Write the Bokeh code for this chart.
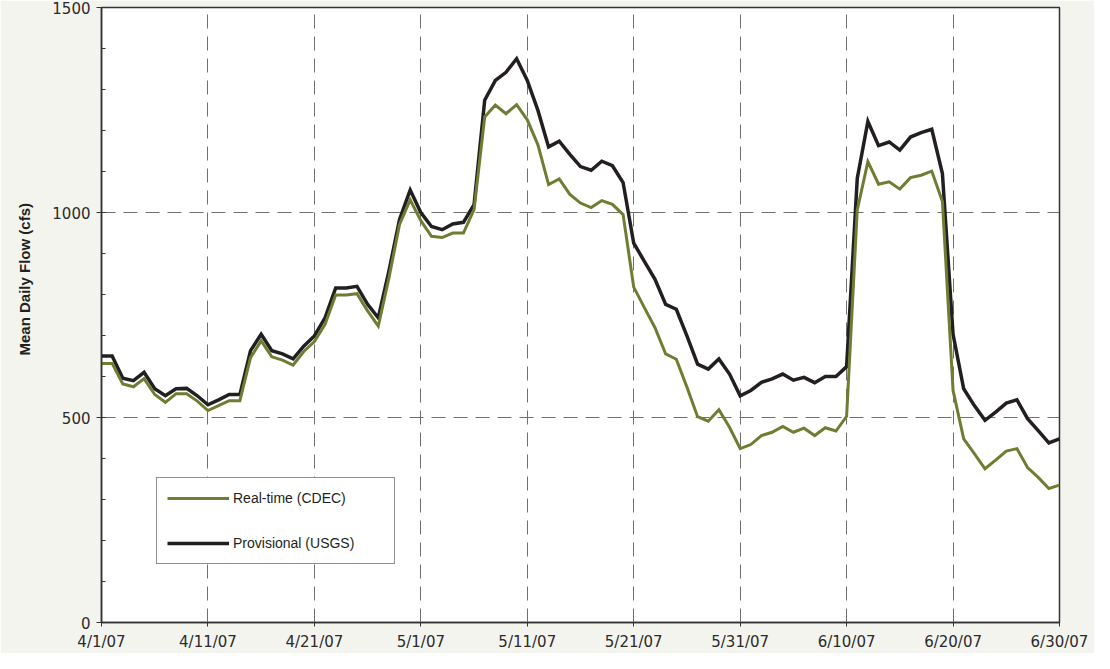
import pandas as pd
from bokeh.plotting import figure
from bokeh.models import Range1d, FixedTicker, Legend, LegendItem, Title, ColumnDataSource
from bokeh.embed import file_html
from bokeh.resources import INLINE

# ---- data (mean daily flow, cfs) ----
start_date = "2007-04-01"
end_date = "2007-06-30"
dates = pd.date_range(start_date, end_date, freq="D")

real_time_cdec = [
    632, 632, 582, 575, 595, 556, 537, 558, 558, 540,
    517, 529, 541, 541, 646, 687, 648, 640, 628, 661,
    685, 727, 799, 799, 802, 760, 723, 840, 971, 1031,
    980, 942, 939, 950, 950, 1007, 1233, 1262, 1241, 1263,
    1226, 1165, 1068, 1082, 1044, 1023, 1012, 1029, 1020, 995,
    818, 768, 719, 655, 642, 574, 502, 491, 519, 476,
    424, 434, 456, 464, 478, 464, 474, 456, 475, 467,
    503, 1006, 1124, 1069, 1075, 1057, 1085, 1091, 1101, 1027,
    566, 448, 412, 375, 396, 418, 424, 378, 354, 327,
    335,
]

provisional_usgs = [
    650, 650, 596, 590, 610, 570, 553, 570, 571, 553,
    531, 543, 556, 556, 663, 703, 663, 655, 643, 674,
    699, 743, 816, 816, 820, 776, 743, 857, 983, 1055,
    1000, 966, 958, 972, 976, 1019, 1274, 1322, 1342, 1375,
    1322, 1249, 1160, 1174, 1142, 1112, 1103, 1125, 1114, 1073,
    925, 881, 837, 776, 764, 699, 630, 618, 643, 606,
    553, 566, 586, 594, 606, 591, 598, 585, 600, 600,
    624, 1083, 1222, 1163, 1172, 1152, 1184, 1195, 1203, 1095,
    703, 570, 529, 493, 513, 535, 543, 497, 468, 438,
    448,
]

tick_dates = ["2007-04-01", "2007-04-11", "2007-04-21", "2007-05-01", "2007-05-11",
              "2007-05-21", "2007-05-31", "2007-06-10", "2007-06-20", "2007-06-30"]
tick_labels = ["4/1/07", "4/11/07", "4/21/07", "5/1/07", "5/11/07",
               "5/21/07", "5/31/07", "6/10/07", "6/20/07", "6/30/07"]
y_major_ticks = [0, 500, 1000, 1500]
y_minor_ticks = list(range(0, 1501, 100))

series_names = ["Real-time (CDEC)", "Provisional (USGS)"]
y_axis_title = "Mean Daily Flow (cfs)"

# ---- build ----
day_index = [(d - dates[0]).days for d in dates]
tick_pos = [(pd.Timestamp(t) - dates[0]).days for t in tick_dates]

src = ColumnDataSource(dict(day=day_index, cdec=real_time_cdec, usgs=provisional_usgs,
                            date=[d.strftime("%Y-%m-%d") for d in dates]))

GREEN = "#6f7d33"
BLACK = "#231f20"
BG = "#f4f4ef"
TXT = "#2b2b2b"

p = figure(width=1094, height=653, output_backend="svg", toolbar_location=None, title=None,
           x_range=Range1d(0, day_index[-1]), y_range=Range1d(0, 1500),
           min_border_left=100, min_border_right=35, min_border_top=7, min_border_bottom=28,
           background_fill_color="white", border_fill_color=BG,
           outline_line_color="#333333", outline_line_width=1.5)

# axes
p.xaxis.ticker = FixedTicker(ticks=tick_pos)
p.xaxis.major_label_overrides = {pos: lab for pos, lab in zip(tick_pos, tick_labels)}
p.yaxis.ticker = FixedTicker(ticks=y_major_ticks, minor_ticks=y_minor_ticks)

for ax in (p.xaxis[0], p.yaxis[0]):
    ax.axis_line_color = "#333333"
    ax.axis_line_width = 1.5
    ax.major_tick_line_color = "#333333"
    ax.minor_tick_line_color = "#333333"
    ax.major_tick_in = 0
    ax.major_label_text_font = "DejaVu Sans"
    ax.major_label_text_font_size = "15px"
    ax.major_label_text_color = TXT

p.xaxis.major_tick_out = 4
p.xaxis.major_label_standoff = 6
p.xaxis.minor_tick_line_color = None
p.yaxis.major_tick_out = 5
p.yaxis.minor_tick_in = 4
p.yaxis.minor_tick_out = 0
p.yaxis.major_label_standoff = 6

# grid
p.xgrid.ticker = FixedTicker(ticks=tick_pos)
p.ygrid.ticker = FixedTicker(ticks=y_major_ticks)
for g in (p.xgrid[0], p.ygrid[0]):
    g.grid_line_color = "#707070"
    g.grid_line_dash = "14 8"
    g.grid_line_width = 1

# lines
r_usgs = p.line("day", "usgs", source=src, line_color=BLACK, line_width=3.5, line_join="miter")
r_cdec = p.line("day", "cdec", source=src, line_color=GREEN, line_width=3, line_join="miter")

legend = Legend(items=[LegendItem(label=series_names[0], renderers=[r_cdec]),
                       LegendItem(label=series_names[1], renderers=[r_usgs])],
                location=(55, 58), margin=0, padding=10, spacing=25,
                glyph_width=62, glyph_height=20, label_width=151, label_height=20,
                label_standoff=4, border_line_color=BLACK, border_line_width=1,
                background_fill_color="white", background_fill_alpha=1,
                label_text_font="Liberation Sans", label_text_font_size="14px",
                label_text_color=BLACK)
p.add_layout(legend)

# y-axis title, placed off-centre (higher) as in the original chart
ytitle = Title(text=y_axis_title, align="left", vertical_align="top", offset=267, standoff=30,
               text_font="Liberation Sans", text_font_size="15px",
               text_font_style="bold", text_color=BLACK)
p.add_layout(ytitle, "left")

open("out.html", "w").write(file_html(p, INLINE))
